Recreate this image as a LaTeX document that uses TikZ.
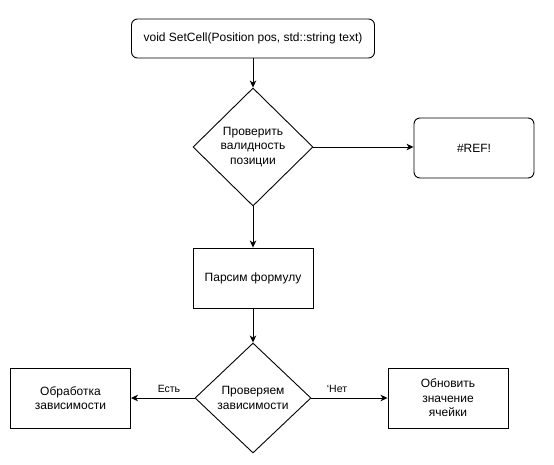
\documentclass[tikz,border=0pt]{standalone}
\usepackage{fontspec}
\setmainfont{Liberation Sans}
\usetikzlibrary{shapes.geometric,arrows.meta}
\tikzset{
  x=1pt,y=-1pt,
  every node/.style={font=\fontsize{12}{14.5}\selectfont, align=center, inner sep=0pt},
  rbox/.style={draw, rounded corners=6pt, line width=0.9pt},
  pbox/.style={draw, line width=0.9pt},
  dmd/.style={draw, diamond, line width=0.9pt},
  conn/.style={line width=0.9pt, -{Stealth[length=7pt,width=6.5pt,inset=2pt]}},
  lbl/.style={font=\fontsize{10.5}{12}\selectfont}
}
\begin{document}
\begin{tikzpicture}
\useasboundingbox (0,0) rectangle (554,464);
\node[rbox, minimum width=243pt, minimum height=39pt] (start) at (253,38.5) {void SetCell(Position pos, std::string text)};
\node[dmd, minimum width=120pt, minimum height=118pt] (valid) at (253,147) {Проверить\\валидность\\позиции};
\node[rbox, minimum width=120pt, minimum height=60pt] (ref) at (474,148) {\#REF!};
\node[pbox, minimum width=120pt, minimum height=60pt] (parse) at (253,278) {Парсим формулу};
\node[dmd, minimum width=116pt, minimum height=110pt] (deps) at (253,398) {Проверяем\\зависимости};
\node[pbox, minimum width=120pt, minimum height=60pt] (proc) at (70.5,398) {Обработка\\зависимости};
\node[pbox, minimum width=120pt, minimum height=60pt] (upd) at (448,398) {Обновить\\значение\\ячейки};
\draw[conn] (start) -- (valid);
\draw[conn] (valid.east) -- (ref.west |- valid.east);
\draw[conn] (valid) -- (parse);
\draw[conn] (parse) -- (deps);
\draw[conn] (deps.west) -- (proc.east);
\draw[conn] (deps.east) -- (upd.west);
\node[lbl] (yes) at (169,389) {Есть};
\node[lbl] (no) at (337,389) {\char"0060Нет};
\end{tikzpicture}
\end{document}
